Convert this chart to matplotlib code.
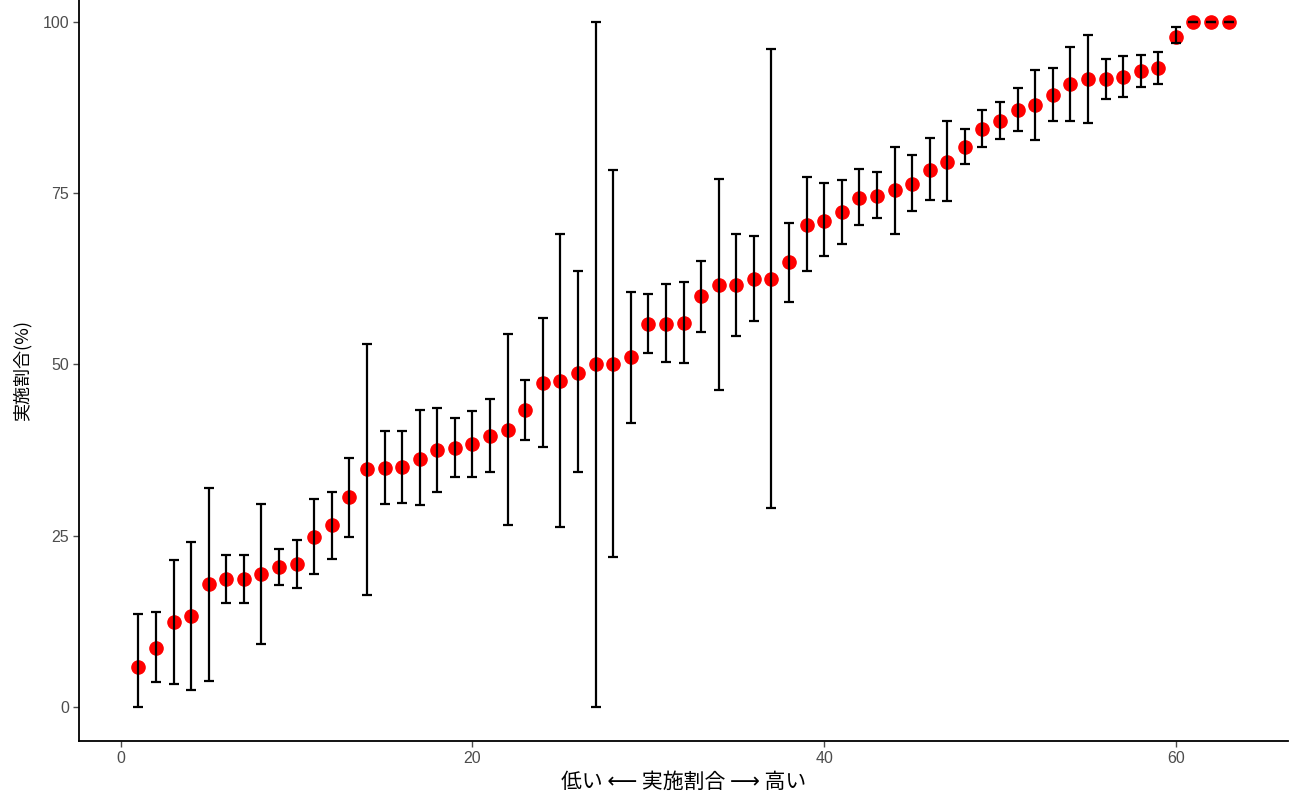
# -*- coding: utf-8 -*-

import matplotlib
matplotlib.use('Agg')
import matplotlib.pyplot as plt
import numpy as np

plt.rcParams['font.family'] = ['Liberation Sans', 'Noto Sans CJK JP', 'DejaVu Sans']

# rank order 1..63, share (%) with lower/upper bounds
rank = list(range(1, 64))
rate = [5.8, 8.6, 12.4, 13.3, 17.9, 18.7, 18.7, 19.4, 20.4, 20.9,
        24.8, 26.5, 30.6, 34.7, 34.9, 35.0, 36.2, 37.5, 37.8, 38.3,
        39.5, 40.4, 43.3, 47.3, 47.6, 48.8, 50.0, 50.0, 51.0, 55.9,
        55.9, 56.0, 60.0, 61.6, 61.6, 62.5, 62.5, 64.9, 70.4, 71.0,
        72.2, 74.3, 74.6, 75.4, 76.4, 78.4, 79.6, 81.8, 84.4, 85.6,
        87.1, 87.8, 89.3, 91.0, 91.6, 91.7, 92.0, 92.8, 93.2, 97.8,
        100.0, 100.0, 100.0]
lower = [0.0, 3.6, 3.3, 2.5, 3.8, 15.1, 15.1, 9.1, 17.8, 17.4,
         19.4, 21.6, 24.8, 16.3, 29.6, 29.7, 29.5, 31.4, 33.6, 33.5,
         34.3, 26.5, 39.0, 38.0, 26.3, 34.3, 0.0, 21.8, 41.5, 51.6,
         50.3, 50.2, 54.7, 46.3, 54.2, 56.4, 29.0, 59.1, 63.7, 65.8,
         67.5, 70.4, 71.4, 69.1, 72.4, 74.0, 73.9, 79.3, 81.7, 82.9,
         84.0, 82.8, 85.5, 85.6, 85.2, 88.8, 89.1, 90.5, 91.0, 96.9,
         100.0, 100.0, 100.0]
upper = [13.5, 13.9, 21.5, 24.0, 32.0, 22.2, 22.1, 29.6, 23.0, 24.4,
         30.3, 31.3, 36.3, 53.0, 40.2, 40.3, 43.3, 43.6, 42.1, 43.2,
         44.9, 54.5, 47.7, 56.7, 69.0, 63.6, 100.0, 78.4, 60.5, 60.3,
         61.7, 62.0, 65.1, 77.0, 69.1, 68.7, 96.1, 70.7, 77.3, 76.5,
         76.9, 78.5, 78.1, 81.7, 80.6, 83.0, 85.5, 84.4, 87.2, 88.3,
         90.4, 93.0, 93.2, 96.4, 98.1, 94.6, 95.0, 95.2, 95.6, 99.2,
         100.0, 100.0, 100.0]

rate = np.array(rate)
yerr = [rate - np.array(lower), np.array(upper) - rate]

fig = plt.figure(figsize=(12.9, 8), dpi=100)
ax = fig.add_axes([79 / 1290, 59 / 800, 1209 / 1290, 741 / 800])

ax.plot(rank, rate, 'o', color='red', markersize=9.5, zorder=2)
ax.errorbar(rank, rate, yerr=yerr, fmt='none', ecolor='black',
            elinewidth=1.6, capsize=3.3, capthick=1.6, zorder=3)

ax.set_xlim(-2.375, 66.375)
ax.set_ylim(-5, 103.2)
ax.set_xticks([0, 20, 40, 60])
ax.set_yticks([0, 25, 50, 75, 100])

for side in ['top', 'right']:
    ax.spines[side].set_visible(False)
for side in ['left', 'bottom']:
    ax.spines[side].set_linewidth(1.3)
    ax.spines[side].set_color('black')

ax.tick_params(axis='both', colors='#4D4D4D', labelsize=11.5, length=4,
               width=1.0, pad=3)

cjk = ['Noto Sans CJK JP', 'DejaVu Sans']
ax.set_xlabel('低い ⟵ 実施割合 ⟶ 高い', fontsize=15, color='black',
              family=cjk, labelpad=4)
ax.set_ylabel('実施割合(%)', fontsize=13, color='black',
              family=cjk, labelpad=8)

fig.savefig('out.png', dpi=100)
